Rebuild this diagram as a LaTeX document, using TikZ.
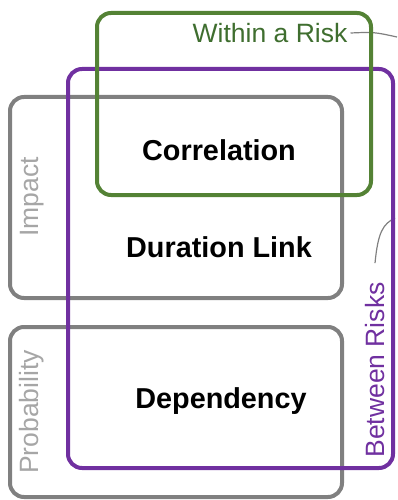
\documentclass[tikz,border=0pt]{standalone}
\usepackage{fontspec}
\setmainfont{Liberation Sans}
\usetikzlibrary{positioning,calc}
\definecolor{FrameGray}{HTML}{808080}
\definecolor{LabelGray}{HTML}{A6A6A6}
\definecolor{RiskGreen}{HTML}{548235}
\definecolor{RiskGreenText}{HTML}{3F6E2F}
\definecolor{RiskPurple}{HTML}{7030A0}

\begin{document}
\begin{tikzpicture}[x=1pt,y=-1pt,
  frame/.style={rounded corners=14pt,line width=4pt},
  sidelabel/.style={font=\fontsize{26.5}{30}\selectfont,inner sep=1pt},
  mainlabel/.style={font=\fontsize{28.8}{32}\selectfont\bfseries,text=black},
  leader/.style={FrameGray,line width=1.2pt}]
\useasboundingbox (0,0) rectangle (397,500);
% the two factor boxes
\draw[frame,FrameGray] (10,97) rectangle (342,298);
\draw[frame,FrameGray] (10,327) rectangle (342,497);
\node[sidelabel,text=LabelGray,rotate=90] (impact) at (32,197) {Impact};
\node[sidelabel,text=LabelGray,rotate=90] (probability) at (32,412) {Probability};
% leader lines
\node[sidelabel,text=RiskGreenText] (within) at (270,33) {Within a Risk};
\node[sidelabel,text=RiskPurple,rotate=90] (between) at (375,370) {Between Risks};
\coordinate (withinEnd) at (397,37);
\coordinate (betweenEnd) at (395,218);
\draw[leader] ([xshift=2pt]within.east) .. controls (374,32) .. (withinEnd);
\draw[leader] ([yshift=18pt]between.east) .. controls (378,232) and (383,224) .. (betweenEnd);
% scope boxes
\draw[frame,RiskPurple] (68,69) rectangle (393,468);
\draw[frame,RiskGreen] (97,13) rectangle (371,195);
\node[mainlabel] (correlation) at (219,150) {Correlation};
\node[mainlabel] (durationLink) at (219,247) {Duration Link};
\node[mainlabel] (dependency) at (221,401) {Dependency};
\end{tikzpicture}
\end{document}
